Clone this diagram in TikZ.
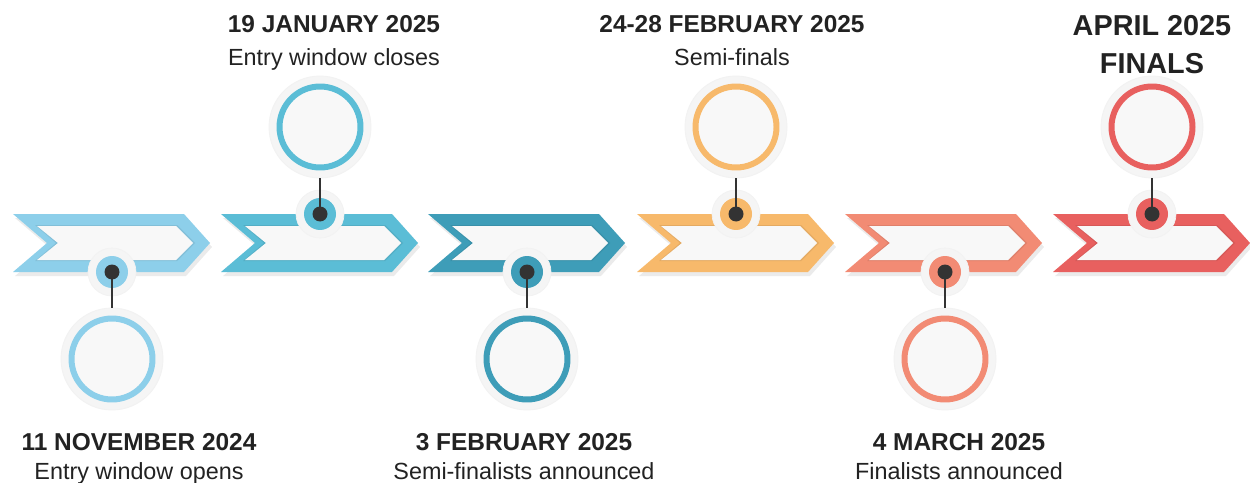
\documentclass[tikz,border=0pt]{standalone}
\usepackage{fontspec}
\setmainfont{Liberation Sans}
\definecolor{cA}{HTML}{8DCFEA}
\definecolor{cB}{HTML}{5BBDD6}
\definecolor{cC}{HTML}{3E9DB8}
\definecolor{cD}{HTML}{F7B96B}
\definecolor{cE}{HTML}{F28B74}
\definecolor{cF}{HTML}{E8605F}
\definecolor{halo}{HTML}{F5F5F5}
\definecolor{paper}{HTML}{F8F8F8}
\definecolor{ink}{HTML}{222222}
\definecolor{pin}{HTML}{333333}
\tikzset{
  datelbl/.style={anchor=base,inner sep=0pt,font=\fontsize{13.9}{16}\selectfont\bfseries,text=ink},
  biglbl/.style={anchor=base,inner sep=0pt,font=\fontsize{16.4}{19}\selectfont\bfseries,text=ink},
  desclbl/.style={anchor=base,inner sep=0pt,font=\fontsize{13.3}{15}\selectfont,text=ink},
  bighalo/.style={circle,fill=halo,draw=black!5,line width=0.5pt,minimum size=2.04cm,inner sep=0pt},
  bigring/.style={circle,fill=paper,draw=#1,line width=3.4pt,minimum size=1.62cm,inner sep=0pt},
  dothalo/.style={circle,fill=halo,draw=black!5,line width=0.4pt,minimum size=0.96cm,inner sep=0pt},
  dotdisk/.style={circle,fill=#1,minimum size=0.64cm,inner sep=0pt},
  dotpin/.style={circle,fill=pin,minimum size=0.3cm,inner sep=0pt},
  stem/.style={draw=pin,line width=1.3pt}
}
\newcommand\mychev[2]{%
  \begin{scope}[shift={(#1,0)}]
    \fill[black,opacity=0.08] (2,218) -- (173,218) -- (199,247) -- (173,276) -- (2,276) -- (36,247) -- cycle;
    \fill[#2] (0,214) -- (171,214) -- (197,243) -- (171,272) -- (0,272) -- (34,243) -- cycle;
    \fill[#2!85!black,opacity=0.5] (22,225) -- (164,225) -- (182,243) -- (164,261) -- (22,261) -- (43,243) -- cycle;
    \fill[paper] (24,226) -- (163,226) -- (180,243) -- (163,260) -- (24,260) -- (45,243) -- cycle;
  \end{scope}}
\begin{document}
\begin{tikzpicture}[x=0.02cm,y=-0.02cm]
\useasboundingbox[fill=white] (0,0) rectangle (1250,483);
% chevrons
\mychev{13}{cA}
\mychev{221}{cB}
\mychev{428}{cC}
\mychev{637}{cD}
\mychev{845}{cE}
\mychev{1053}{cF}
% big circles
\node[bighalo] (h1) at (112,359) {};
\node[bighalo] (h2) at (320,127) {};
\node[bighalo] (h3) at (527,359) {};
\node[bighalo] (h4) at (736,127) {};
\node[bighalo] (h5) at (945,359) {};
\node[bighalo] (h6) at (1152,127) {};
\node[bigring=cA] (c1) at (h1) {};
\node[bigring=cB] (c2) at (h2) {};
\node[bigring=cC] (c3) at (h3) {};
\node[bigring=cD] (c4) at (h4) {};
\node[bigring=cE] (c5) at (h5) {};
\node[bigring=cF] (c6) at (h6) {};
% dots on chevrons
\node[dothalo] (g1) at (112,272) {};
\node[dothalo] (g2) at (320,214) {};
\node[dothalo] (g3) at (527,272) {};
\node[dothalo] (g4) at (736,214) {};
\node[dothalo] (g5) at (945,272) {};
\node[dothalo] (g6) at (1152,214) {};
\node[dotdisk=cA] (d1) at (g1) {};
\node[dotdisk=cB] (d2) at (g2) {};
\node[dotdisk=cC] (d3) at (g3) {};
\node[dotdisk=cD] (d4) at (g4) {};
\node[dotdisk=cE] (d5) at (g5) {};
\node[dotdisk=cF] (d6) at (g6) {};
% stems
\draw[stem] (h1.north) -- (d1.center);
\draw[stem] (h2.south) -- (d2.center);
\draw[stem] (h3.north) -- (d3.center);
\draw[stem] (h4.south) -- (d4.center);
\draw[stem] (h5.north) -- (d5.center);
\draw[stem] (h6.south) -- (d6.center);
\foreach \i in {1,...,6}{\node[dotpin] (p\i) at (d\i) {};}
% labels top
\node[datelbl] (t2a) at (334,33) {19 JANUARY 2025};
\node[desclbl] (t2b) at (334,66) {Entry window closes};
\node[datelbl] (t4a) at (732,33) {24-28 FEBRUARY 2025};
\node[desclbl] (t4b) at (732,66) {Semi-finals};
\node[biglbl] (t6a) at (1152,36) {APRIL 2025};
\node[biglbl] (t6b) at (1152,73) {FINALS};
% labels bottom
\node[datelbl] (t1a) at (139,450) {11 NOVEMBER 2024};
\node[desclbl] (t1b) at (139,479) {Entry window opens};
\node[datelbl] (t3a) at (524,450) {3 FEBRUARY 2025};
\node[desclbl] (t3b) at (524,479) {Semi-finalists announced};
\node[datelbl] (t5a) at (959,450) {4 MARCH 2025};
\node[desclbl] (t5b) at (959,479) {Finalists announced};
\end{tikzpicture}
\end{document}
